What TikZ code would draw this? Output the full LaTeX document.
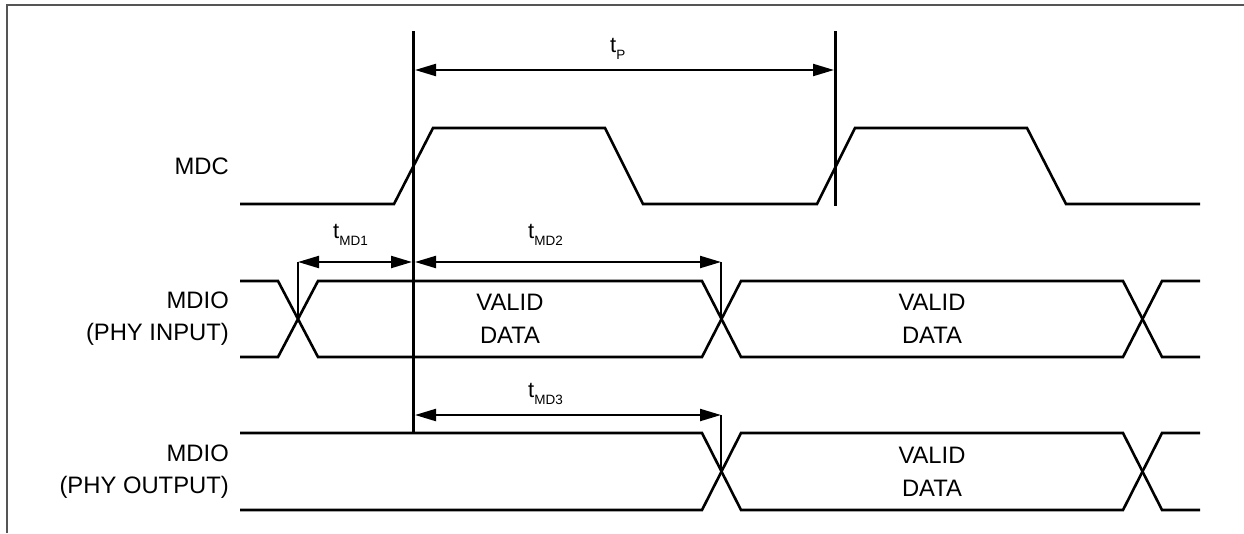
\documentclass[tikz,border=0pt]{standalone}
\usepackage{fontspec}
\setmainfont{Liberation Sans}
\usetikzlibrary{arrows.meta}

\definecolor{framegray}{HTML}{555555}
\newcommand{\tlabel}[1]{t\raisebox{-7pt}{\fontsize{13.5}{15}\selectfont #1}}

\tikzset{
	wave/.style={line width=2.6pt},
	edgeline/.style={line width=3pt},
	tick/.style={line width=2pt},
	dimarrow/.style={line width=2.2pt,{Triangle[length=21pt,width=12pt]}-{Triangle[length=21pt,width=12pt]}},
	signame/.style={font=\fontsize{23.8}{32}\selectfont,align=right,anchor=east,inner sep=0pt},
	datatext/.style={font=\fontsize{23.8}{33}\selectfont,align=center,inner sep=0pt},
	timetext/.style={font=\fontsize{22}{24}\selectfont,anchor=base west,inner sep=0pt}
}

\begin{document}
\begin{tikzpicture}[x=1pt,y=-1pt]
	\useasboundingbox (0,0) rectangle (1244,533);
	\draw[framegray,line width=2.2pt] (7,533) -- (7,5) -- (1244,5);

	% signal names
	\node[signame] (mdc) at (229,166) {MDC};
	\node[signame] (mdioin) at (229,319) {MDIO\\(PHY INPUT)};
	\node[signame] (mdioout) at (229,472) {MDIO\\(PHY OUTPUT)};

	% MDC clock
	\draw[wave] (240,204) -- (394,204) -- (433,128) -- (605,128) -- (643,204)
		-- (817,204) -- (855,128) -- (1027,128) -- (1066,204) -- (1200,204);

	% MDIO (PHY INPUT)
	\draw[wave] (240,281) -- (278,281) -- (318,357) -- (702,357) -- (741,281)
		-- (1123,281) -- (1162,357) -- (1200,357);
	\draw[wave] (240,357) -- (278,357) -- (318,281) -- (702,281) -- (741,357)
		-- (1123,357) -- (1162,281) -- (1200,281);
	\node[datatext] (datain1) at (510,319) {VALID\\DATA};
	\node[datatext] (datain2) at (932,319) {VALID\\DATA};

	% MDIO (PHY OUTPUT)
	\draw[wave] (240,433) -- (702,433) -- (741,510) -- (1123,510) -- (1162,433) -- (1200,433);
	\draw[wave] (240,510) -- (702,510) -- (741,433) -- (1123,433) -- (1162,510) -- (1200,510);
	\node[datatext] (dataout) at (932,472) {VALID\\DATA};

	% reference edges
	\coordinate (edgeA top) at (413,31);
	\coordinate (edgeA bot) at (413,434);
	\coordinate (edgeB top) at (835,31);
	\coordinate (edgeB bot) at (835,206);
	\draw[edgeline] (edgeA top) -- (edgeA bot);
	\draw[edgeline] (edgeB top) -- (edgeB bot);

	% crossing points
	\coordinate (crossin1) at (298,319);
	\coordinate (crossin2) at (721,319);
	\coordinate (crossout) at (721,471.5);
	\coordinate (md1 left) at (298,262);
	\coordinate (md1 right) at (412,262);
	\coordinate (md2 left) at (415,262);
	\coordinate (md2 right) at (721,262);
	\coordinate (md3 left) at (415,415);
	\coordinate (md3 right) at (721,415);
	\coordinate (p left) at (415,70);
	\coordinate (p right) at (834,70);

	\draw[tick] (md1 left) -- (crossin1);
	\draw[tick] (md2 right) -- (crossin2);
	\draw[tick] (md3 right) -- (crossout);

	% timing arrows
	\draw[dimarrow] (p left) -- (p right);
	\draw[dimarrow] (md1 left) -- (md1 right);
	\draw[dimarrow] (md2 left) -- (md2 right);
	\draw[dimarrow] (md3 left) -- (md3 right);

	\node[timetext] (tp) at (610,52) {\tlabel{P}};
	\node[timetext] (tmd1) at (333,238) {\tlabel{MD1}};
	\node[timetext] (tmd2) at (528,238) {\tlabel{MD2}};
	\node[timetext] (tmd3) at (528,397) {\tlabel{MD3}};
\end{tikzpicture}
\end{document}
